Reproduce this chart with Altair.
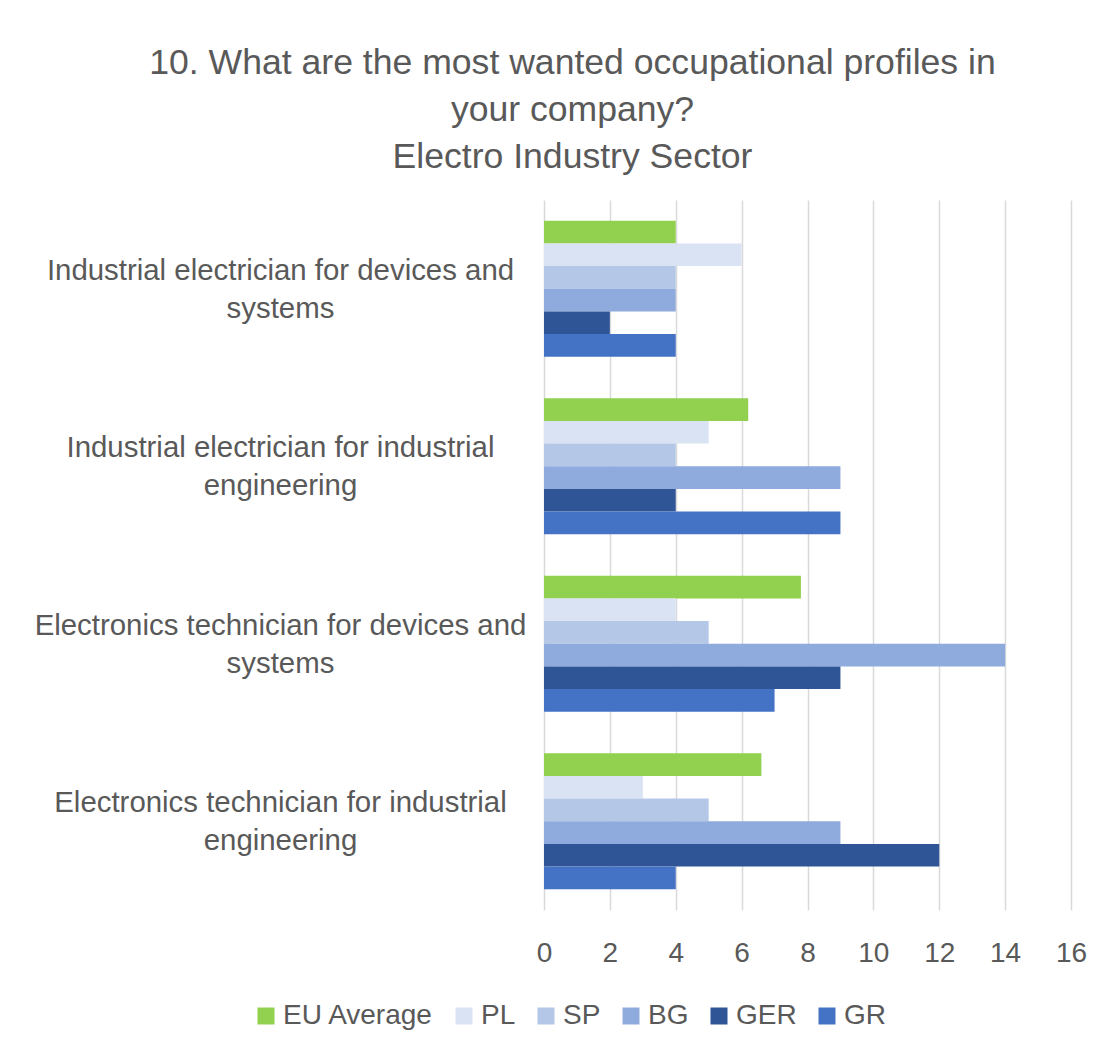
import altair as alt
import pandas as pd

categories = [
    "Industrial electrician for devices and systems",
    "Industrial electrician for industrial engineering",
    "Electronics technician for devices and systems",
    "Electronics technician for industrial engineering",
]
series = ["EU Average", "PL", "SP", "BG", "GER", "GR"]
colors = ["#92D050", "#DAE3F3", "#B4C7E7", "#8FAADC", "#2F5597", "#4472C4"]

eu_average = [4.0, 6.2, 7.8, 6.6]
pl = [6, 5, 4, 3]
sp = [4, 4, 5, 5]
bg = [4, 9, 14, 9]
ger = [2, 4, 9, 12]
gr = [4, 9, 7, 4]

x_ticks = [0, 2, 4, 6, 8, 10, 12, 14, 16]

values = {"EU Average": eu_average, "PL": pl, "SP": sp, "BG": bg, "GER": ger, "GR": gr}
rows = []
for s in series:
    for c, v in zip(categories, values[s]):
        rows.append({"category": c, "series": s, "value": v})
df = pd.DataFrame(rows)

FONT = "Liberation Sans"
TXT = "#595959"

label_expr = (
    "[slice(datum.label, 0, lastindexof(datum.label, ' ')), "
    "slice(datum.label, lastindexof(datum.label, ' ') + 1)]"
)

chart = (
    alt.Chart(df)
    .mark_bar()
    .encode(
        x=alt.X(
            "value:Q",
            scale=alt.Scale(domain=[0, 16], nice=False),
            axis=alt.Axis(
                values=x_ticks,
                title=None,
                grid=True,
                gridColor="#D9D9D9",
                gridWidth=1.5,
                domain=False,
                ticks=False,
                labelFlush=False,
                labelPadding=29,
                labelFontSize=28,
                labelFont=FONT,
                labelColor=TXT,
            ),
        ),
        y=alt.Y(
            "category:N",
            sort=categories,
            scale=alt.Scale(paddingInner=0.234, paddingOuter=0.117),
            axis=alt.Axis(
                title=None,
                domain=False,
                ticks=False,
                grid=False,
                labelExpr=label_expr,
                labelAlign="center",
                labelBaseline="middle",
                labelOffset=-18,
                labelPadding=264,
                labelLimit=0,
                labelLineHeight=38,
                labelFontSize=29.4,
                labelFont=FONT,
                labelColor=TXT,
            ),
        ),
        yOffset=alt.YOffset(
            "series:N",
            sort=series,
            scale=alt.Scale(paddingInner=0, paddingOuter=0),
        ),
        color=alt.Color(
            "series:N",
            sort=series,
            scale=alt.Scale(domain=series, range=colors),
            legend=alt.Legend(
                title=None,
                orient="none",
                direction="horizontal",
                columns=6,
                legendX=-292,
                legendY=802,
                symbolType="square",
                symbolSize=289,
                symbolStrokeWidth=0,
                labelFontSize=28,
                labelFont=FONT,
                labelColor=TXT,
                labelOffset=3,
                columnPadding=16,
                labelLimit=0,
            ),
        ),
    )
    .properties(
        width=527,
        height=710,
        background="white",
        padding={"left": 536, "top": 192, "right": 20, "bottom": 132},
        autosize=alt.AutoSizeParams(type="none"),
        title=alt.TitleParams(
            text=[
                "10. What are the most wanted occupational profiles in",
                "your company?",
                "Electro Industry Sector",
            ],
            fontSize=35.6,
            font=FONT,
            fontWeight="normal",
            color=TXT,
            lineHeight=47,
            anchor="middle",
            dx=-235,
            offset=24,
        ),
    )
    .configure_view(stroke=None)
)

chart.save("out.html", embed_options={"renderer": "svg", "actions": False})
